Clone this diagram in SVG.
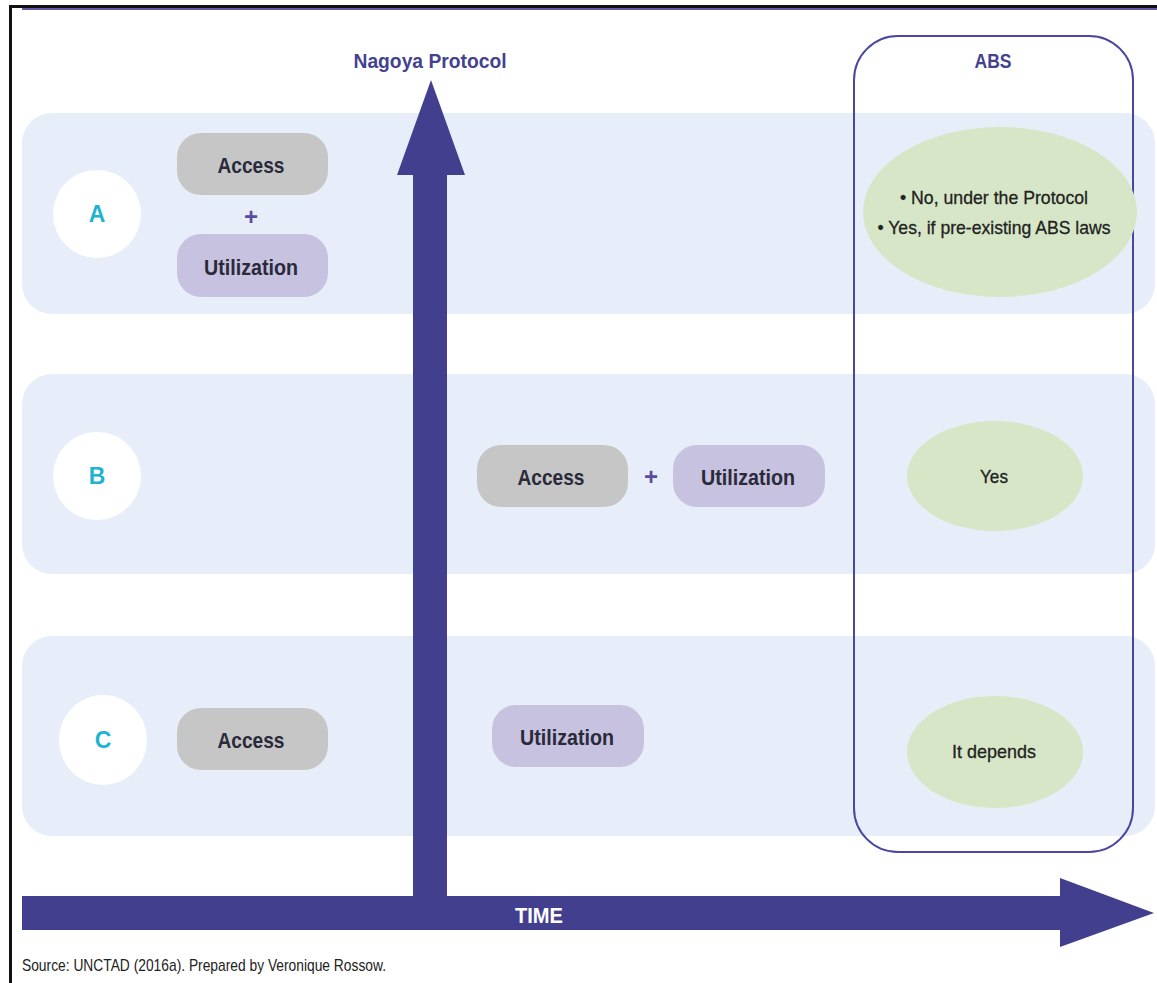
<svg xmlns="http://www.w3.org/2000/svg" width="1157" height="983" viewBox="0 0 1157 983">
<style>
.band{fill:#e8eef9}
.circ{fill:#ffffff}
.letter{font-family:"Liberation Sans",Arial,sans-serif;font-weight:bold;font-size:23px;fill:#1fb3d2;text-anchor:middle}
.acc{fill:#c6c6c6}
.util{fill:#c7c2e0}
.lbl{font-family:"Liberation Sans Narrow","Liberation Sans",Arial,sans-serif;font-weight:bold;font-size:22px;fill:#2a2a3a;text-anchor:middle}
.plus{font-family:"Liberation Sans",Arial,sans-serif;font-weight:bold;font-size:24px;fill:#5a4ca0;text-anchor:middle}
.ell{fill:#d7e6c7}
.etxt{font-family:"Liberation Sans Narrow","Liberation Sans",Arial,sans-serif;font-size:19px;fill:#222;text-anchor:middle;stroke:#222;stroke-width:0.3}
.title{font-family:"Liberation Sans Narrow","Liberation Sans",Arial,sans-serif;font-weight:bold;font-size:21px;fill:#44418f;text-anchor:middle}
.arrow{fill:#433f8f}
</style>
<rect x="0" y="0" width="1157" height="983" fill="#ffffff"/>
<g id="frame">
<rect x="9" y="5" width="1148" height="3" fill="#111"/>
<rect x="9" y="5" width="3" height="978" fill="#111"/>
<rect x="22" y="8" width="1135" height="2" fill="#5d5aa8"/>
</g>
<g id="rows">
<rect class="band" x="22" y="113" width="1133" height="201" rx="30"/>
<rect class="band" x="22" y="374" width="1133" height="200" rx="30"/>
<rect class="band" x="22" y="636" width="1133" height="200" rx="30"/>
</g>
<g id="abs-box">
<rect x="854" y="36" width="279" height="816" rx="44" fill="none" stroke="#4a47a0" stroke-width="2"/>
<text class="title" x="993" y="68" textLength="37" lengthAdjust="spacingAndGlyphs">ABS</text>
</g>
<g id="row-A">
<ellipse class="circ" cx="97" cy="214" rx="44" ry="44"/>
<text class="letter" x="97" y="222">A</text>
<g id="A-access"><rect class="acc" x="177" y="133" width="151" height="62" rx="24"/><text class="lbl" x="251" y="173" textLength="67" lengthAdjust="spacingAndGlyphs">Access</text></g>
<text class="plus" x="251" y="225">+</text>
<g id="A-util"><rect class="util" x="177" y="234" width="151" height="63" rx="24"/><text class="lbl" x="251" y="275" textLength="94" lengthAdjust="spacingAndGlyphs">Utilization</text></g>
<g id="A-abs"><ellipse class="ell" cx="1000" cy="212" rx="137" ry="85"/>
<text class="etxt" x="994" y="204" textLength="188" lengthAdjust="spacingAndGlyphs">• No, under the Protocol</text>
<text class="etxt" x="994" y="234" textLength="233" lengthAdjust="spacingAndGlyphs">• Yes, if pre-existing ABS laws</text></g>
</g>
<g id="row-B">
<ellipse class="circ" cx="97" cy="476" rx="44" ry="44"/>
<text class="letter" x="97" y="484">B</text>
<g id="B-access"><rect class="acc" x="477" y="445" width="151" height="62" rx="24"/><text class="lbl" x="551" y="485" textLength="67" lengthAdjust="spacingAndGlyphs">Access</text></g>
<text class="plus" x="651" y="485">+</text>
<g id="B-util"><rect class="util" x="673" y="445" width="152" height="62" rx="24"/><text class="lbl" x="748" y="485" textLength="94" lengthAdjust="spacingAndGlyphs">Utilization</text></g>
<g id="B-abs"><ellipse class="ell" cx="995" cy="476" rx="88" ry="55"/>
<text class="etxt" x="994" y="483" textLength="28" lengthAdjust="spacingAndGlyphs">Yes</text></g>
</g>
<g id="row-C">
<ellipse class="circ" cx="103" cy="740" rx="44" ry="45"/>
<text class="letter" x="103" y="748">C</text>
<g id="C-access"><rect class="acc" x="177" y="708" width="151" height="62" rx="24"/><text class="lbl" x="251" y="748" textLength="67" lengthAdjust="spacingAndGlyphs">Access</text></g>
<g id="C-util"><rect class="util" x="492" y="705" width="152" height="62" rx="24"/><text class="lbl" x="567" y="745" textLength="94" lengthAdjust="spacingAndGlyphs">Utilization</text></g>
<g id="C-abs"><ellipse class="ell" cx="995" cy="752" rx="88" ry="56"/>
<text class="etxt" x="994" y="758" textLength="84" lengthAdjust="spacingAndGlyphs">It depends</text></g>
</g>
<g id="connectors">
<polygon class="arrow" points="413,930 413,175 397,175 431,80 465,175 447,175 447,896 1060,896 1060,878 1154,913 1060,947 1060,930 22,930 22,896 413,896"/>
</g>
<g id="labels">
<text class="title" x="430" y="68" textLength="153" lengthAdjust="spacingAndGlyphs">Nagoya Protocol</text>
<text x="539" y="923" font-family="Liberation Sans Narrow, Liberation Sans, Arial, sans-serif" font-weight="bold" font-size="22" fill="#ffffff" text-anchor="middle" textLength="48" lengthAdjust="spacingAndGlyphs">TIME</text>
<text x="22" y="971" font-family="Liberation Sans Narrow, Liberation Sans, Arial, sans-serif" font-size="17" fill="#222" textLength="364" lengthAdjust="spacingAndGlyphs">Source: UNCTAD (2016a). Prepared by Veronique Rossow.</text>
</g>
</svg>
